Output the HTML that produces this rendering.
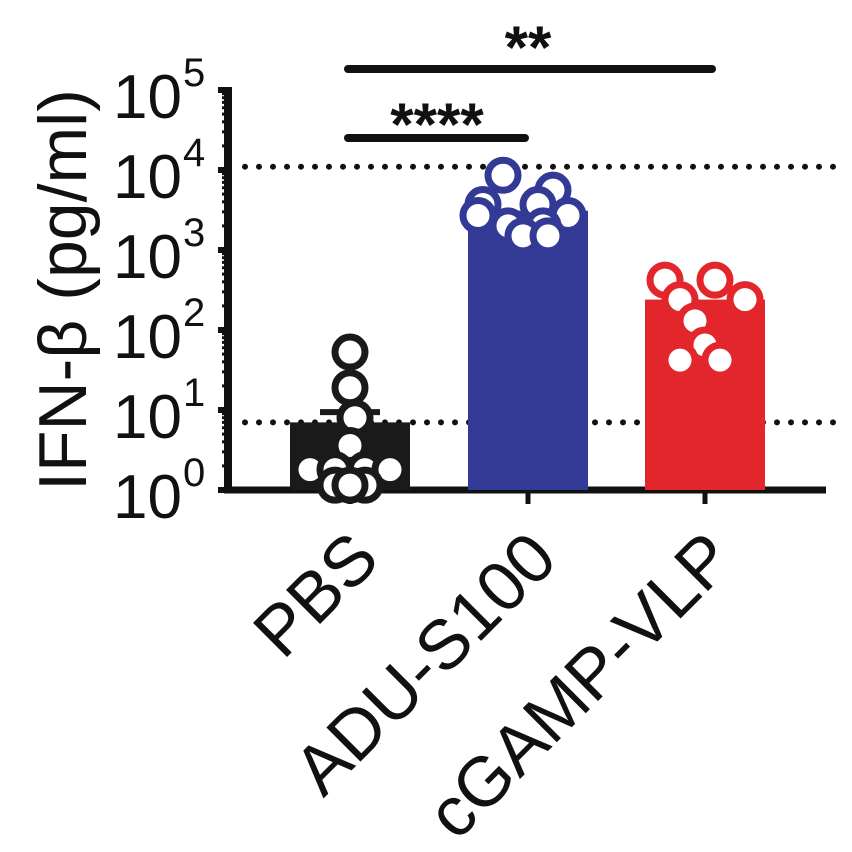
<!DOCTYPE html>
<html><head><meta charset="utf-8"><style>
html,body{margin:0;padding:0;background:#fff;}
svg{display:block;font-family:"Liberation Sans",Arial,sans-serif;}
</style></head><body>
<svg id="chart" width="852" height="852" viewBox="0 0 852 852">
<g id="axes"></g>
<g id="marks"></g>
</svg>
<script>
const categories = ["PBS","ADU-S100","cGAMP-VLP"];
const barValues = [7, 3100, 240];
const errorTop = [9.4, null, null];
const colors = ["#1a1a1a","#323a96","#e3262b"];
const pbsPoints = [53, 19, 8, 3.6, 1.8, 1.8, 1.8, 1.8, 1.15, 1.15, 1.15];
const aduPoints = [8600, 5600, 3700, 3700, 2700, 2700, 2000, 2000, 1500, 1500];
const cgampPoints = [420, 420, 240, 240, 130, 65, 42, 42];
const tickExps = [0,1,2,3,4,5];
const dottedLevels = [11000, 7];
const sigBars = [[0,2,"**"],[0,1,"****"]];

const NS="http://www.w3.org/2000/svg";
const axes=document.getElementById('axes'), marks=document.getElementById('marks');
function el(t,a,p){const e=document.createElementNS(NS,t);for(const k in a)e.setAttribute(k,a[k]);p.appendChild(e);return e;}
const y0=490, perDec=80;
function yScale(v){return y0-Math.log10(v)*perDec;}
const centers=[350,528,705];
function xScale(i){return centers[i];}
const barW=120;

dottedLevels.forEach(v=>{
 const l=el('line',{x1:245,x2:845,y1:yScale(v),y2:yScale(v),stroke:'#111','stroke-width':6,'stroke-dasharray':'0 14','stroke-linecap':'round'},axes);
 
 
});

categories.forEach((c,i)=>{
 const r=el('rect',{x:xScale(i)-barW/2,y:yScale(barValues[i]),width:barW,height:y0-yScale(barValues[i]),fill:colors[i]},marks);
 
 
 if(errorTop[i]){
  const e=el('path',{d:`M${xScale(i)} ${yScale(barValues[i])}V${yScale(errorTop[i])}M${xScale(i)-30} ${yScale(errorTop[i])}H${xScale(i)+30}`,stroke:colors[i],'stroke-width':6,fill:'none'},marks);
  
  
 }
});

const pointSets=[pbsPoints,aduPoints,cgampPoints];
const jit=[[0,0,5,0,-40,-15,15,40,-15,15,0],[-25,25,-45,10,-50,40,-20,15,-5,20],[-40,10,-25,40,-10,0,-25,15]];
pointSets.forEach((pts,i)=>{
 pts.forEach((v,j)=>{
  const c=el('circle',{cx:xScale(i)+jit[i][j],cy:yScale(v),r:15,fill:'#fff',stroke:colors[i],'stroke-width':7},marks);
  
  
 });
});

const ya=el('line',{x1:228,x2:228,y1:yScale(1e5)-3,y2:y0+3,stroke:'#111','stroke-width':8},axes);

const xa=el('line',{x1:224,x2:826,y1:y0,y2:y0,stroke:'#111','stroke-width':7},axes);


tickExps.forEach(e=>{
 const y=yScale(Math.pow(10,e));
 const t=el('line',{x1:218,x2:232,y1:y,y2:y,stroke:'#111','stroke-width':6},axes);
 
 for(let m=2;m<10&&e<5;m++){
  const ym=yScale(m*Math.pow(10,e));
  const mt=el('line',{x1:222,x2:232,y1:ym,y2:ym,stroke:'#111','stroke-width':3},axes);
  
 }
 const tx=el('text',{x:182,y:y+28,'font-size':62,'text-anchor':'end',fill:'#111'},axes);
 tx.textContent='10';
 
 const sp=el('text',{x:183,y:y-4,'font-size':40,fill:'#111'},axes);
 sp.textContent=String(e);
 
});

categories.forEach((c,i)=>{
 const t=el('line',{x1:xScale(i),x2:xScale(i),y1:y0,y2:y0+14,stroke:'#111','stroke-width':5},axes);
 
 const x=xScale(i)+32, y=y0+72;
 const tx=el('text',{x:x,y:y,'font-size':70,'text-anchor':'end',fill:'#111',transform:`rotate(-45 ${x} ${y})`},axes);
 tx.textContent=c;
 
});

const yt=el('text',{x:0,y:0,'font-size':68,'text-anchor':'middle',fill:'#111',transform:'translate(86 290) rotate(-90)'},axes);
yt.textContent='IFN-β (pg/ml)';


const sigY=[69,138];
sigBars.forEach((s,k)=>{
 const l=el('line',{x1:xScale(s[0])-2,x2:xScale(s[1])+(k===0?7:-3),y1:sigY[k],y2:sigY[k],stroke:'#111','stroke-width':8,'stroke-linecap':'round'},axes);
 
 const tx=el('text',{x:k===0?528:437,y:sigY[k]+(k===0?-1:7),'font-size':60,'text-anchor':'middle',fill:'#111','font-weight':'bold'},axes);
 tx.textContent=s[2];
 
});
</script>
</body></html>
